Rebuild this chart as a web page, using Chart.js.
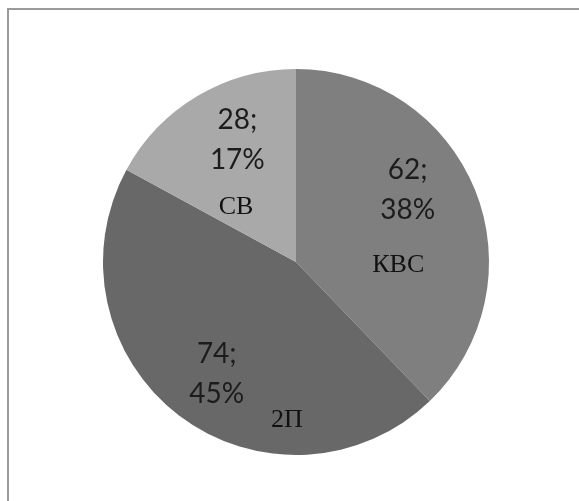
<!DOCTYPE html>
<html>
<head>
<meta charset="utf-8">
<script src="https://cdn.jsdelivr.net/npm/chart.js@4"></script>
<style>
  html, body { margin: 0; padding: 0; background: #fff; }
  #wrap { position: relative; width: 579px; height: 501px; overflow: hidden; }
  #frame { position: absolute; left: 7px; top: 8px; width: 600px; height: 520px;
           border: 2px solid #9a9a9a; box-sizing: border-box; }
  canvas { position: absolute; left: 0; top: 0; }
</style>
</head>
<body>
<div id="wrap">
  <div id="frame"></div>
  <canvas id="pie" width="579" height="501"></canvas>
</div>
<script>
const categories = ['КВС', '2П', 'СВ'];
const values = [62, 74, 28];
const percents = ['38%', '45%', '17%'];
const colors = ['#7f7f7f', '#686868', '#a9a9a9'];

// label placement inside each slice: angle offset (deg) from slice middle, radius fraction
const valueSpots = [
  { da: -11, r: 0.69 },
  { da: -2, r: 0.71 },
  { da: 5, r: 0.7 }
];
const nameSpots = [
  { da: 24, r: 0.53 },
  { da: -34, r: 0.82 },
  { da: -17, r: 0.42 }
];

function spot(p, s) {
  const a = (p.startAngle + p.endAngle) / 2 + s.da * Math.PI / 180;
  return { x: p.x + Math.cos(a) * p.outerRadius * s.r, y: p.y + Math.sin(a) * p.outerRadius * s.r };
}

const sliceLabels = {
  id: 'sliceLabels',
  afterDatasetsDraw(chart) {
    const c = chart.ctx;
    const meta = chart.getDatasetMeta(0);
    meta.data.forEach((arc, i) => {
      const p = arc.getProps(['x', 'y', 'startAngle', 'endAngle', 'outerRadius'], true);
      const b = spot(p, valueSpots[i]);
      c.save();
      c.fillStyle = '#1c1c1c';
      c.textAlign = 'center';
      c.textBaseline = 'middle';
      c.font = '28px Lato, "Open Sans", sans-serif';
      c.fillText(values[i] + ';', b.x, b.y - 20);
      c.fillText(percents[i], b.x, b.y + 20);
      const n = spot(p, nameSpots[i]);
      c.font = '26px "Liberation Serif", "DejaVu Serif", serif';
      c.fillStyle = '#111';
      c.fillText(categories[i], n.x, n.y);
      c.restore();
    });
  }
};

new Chart(document.getElementById('pie'), {
  type: 'pie',
  data: {
    labels: categories,
    datasets: [{
      data: values,
      backgroundColor: colors,
      borderWidth: 0
    }]
  },
  options: {
    responsive: false,
    animation: false,
    layout: { padding: { top: 69, bottom: 46, left: 103, right: 90 } },
    plugins: {
      legend: { display: false },
      tooltip: { enabled: false }
    }
  },
  plugins: [sliceLabels]
});
</script>
</body>
</html>
